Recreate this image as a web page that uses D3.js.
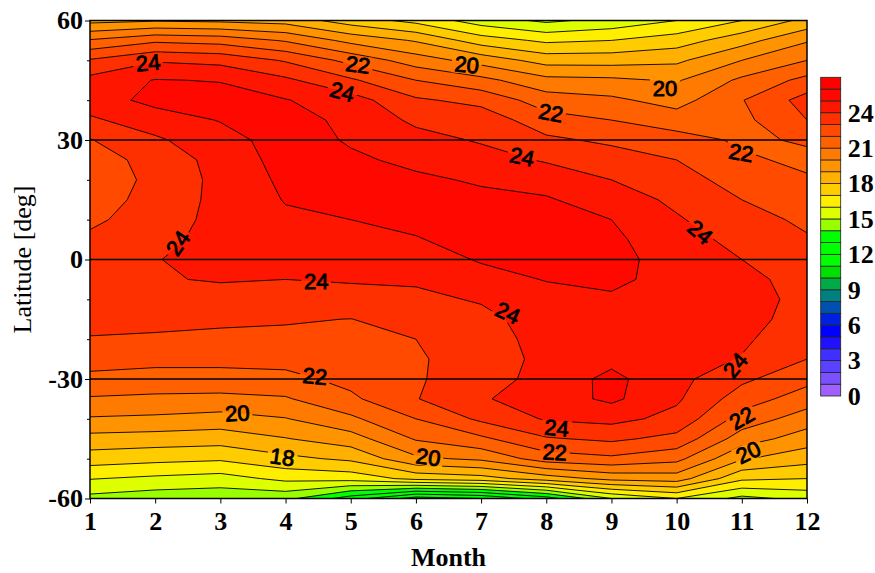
<!DOCTYPE html>
<html>
<head>
<meta charset="utf-8">
<script src="https://cdn.jsdelivr.net/npm/d3@7"></script>
<style>
  body { margin: 0; background: #fff; }
  .axis text { font-family: "Liberation Serif", "Times New Roman", serif; font-weight: bold; font-size: 26px; fill: #000; }
  .axis .domain { display: none; }
  .axis line { stroke: #000; }
</style>
</head>
<body>
<svg id="chart" width="875" height="573"></svg>
<script>
// grid: one column per month, latitudes from 60 down to -60
const months = [1, 2, 3, 4, 5, 6, 7, 8, 9, 10, 11, 12];
const lats = [60, 55, 50, 45, 40, 35, 30, 25, 20, 15, 10, 5, 0, -5, -10, -15, -20, -25, -30, -35, -40, -45, -50, -55, -60];

const jan = [18.7, 21.1, 23.1, 24.3, 24.5, 23.85, 22.95, 22.6, 22.5, 22.6, 22.8, 23.2, 23.5, 23.6, 23.5, 23.25, 22.95, 22.4, 21.75, 20.9, 19.9, 18.65, 17.5, 16.05, 14.7];
const feb = [18.9, 21.8, 23.9, 25.05, 25.3, 24.5, 23.85, 23.3, 23.2, 23.3, 23.5, 23.75, 23.97, 23.95, 23.7, 23.3, 22.85, 22.3, 21.6, 20.8, 19.8, 18.55, 17.3, 15.8, 14.4];
const mar = [18.8, 21.6, 23.7, 24.95, 25.4, 25.05, 24.6, 24.4, 24.3, 24.3, 24.3, 24.3, 24.25, 24.05, 23.75, 23.2, 22.75, 22.3, 21.6, 20.75, 19.6, 18.45, 17.15, 15.6, 14.3];
const apr = [18.6, 20.9, 22.9, 24.2, 25.05, 25.4, 25.45, 25.35, 25.2, 25.05, 24.85, 24.6, 24.35, 24.0, 23.7, 23.1, 22.75, 22.35, 21.7, 20.9, 19.95, 18.95, 17.75, 16.25, 14.3];
const may = [17.5, 19.7, 21.7, 23.15, 24.45, 24.75, 24.9, 25.15, 25.35, 25.3, 25.0, 24.7, 24.35, 24.05, 23.8, 22.98, 22.7, 22.5, 22.3, 21.8, 20.8, 19.55, 18.2, 16.4, 12.5];
const jun = [16.7, 18.9, 20.5, 22.0, 23.15, 23.8, 24.35, 24.8, 25.15, 25.3, 25.2, 24.95, 24.45, 24.15, 23.75, 23.45, 23.0, 22.9, 22.9, 22.95, 22.0, 21.1, 19.8, 17.3, 10.5];
const jul = [15.5, 17.5, 19.6, 21.3, 22.7, 23.6, 23.9, 24.4, 24.9, 25.2, 25.4, 25.3, 25.1, 24.6, 24.1, 23.7, 23.5, 23.4, 23.5, 23.9, 23.2, 21.8, 20.2, 17.6, 11.0];
const aug = [14.8, 16.8, 18.6, 20.3, 21.5, 22.4, 23.2, 23.9, 24.6, 25.1, 25.4, 25.5, 25.4, 25.05, 24.6, 24.5, 24.4, 24.3, 24.4, 24.5, 24.1, 22.9, 21.5, 18.5, 12.5];
const sep = [15.3, 17.0, 18.6, 20.2, 21.2, 22.0, 22.8, 23.5, 24.0, 24.5, 25.0, 25.2, 25.3, 25.15, 24.9, 24.7, 24.6, 24.75, 25.25, 25.2, 24.3, 23.2, 21.8, 19.3, 15.0];
const oct = [16.0, 17.5, 18.8, 19.9, 20.6, 21.5, 22.4, 23.0, 23.5, 23.8, 24.1, 24.4, 24.6, 24.75, 24.8, 24.7, 24.5, 24.4, 24.3, 24.15, 23.7, 22.7, 21.3, 19.5, 16.0];
const nov = [17.0, 18.6, 20.0, 21.2, 21.95, 21.75, 21.85, 22.15, 22.5, 23.0, 23.4, 23.7, 24.0, 24.3, 24.35, 24.3, 24.15, 23.95, 23.2, 22.5, 21.6, 20.5, 19.1, 17.2, 14.7];
const dec = [18.3, 19.9, 21.0, 22.3, 23.4, 23.0, 22.1, 21.8, 22.1, 22.5, 22.8, 23.1, 23.4, 23.6, 23.75, 23.65, 23.4, 23.0, 22.3, 21.5, 20.5, 19.5, 18.4, 17.0, 15.3];

// one colour per unit band [v, v+1)
const bandColors = [
  '#a060ff', '#7a50ff', '#5a40ff', '#4030ff', '#2010ff', '#0000ff', '#0020e0', '#0050b0', '#008080',
  '#00aa44', '#00e000', '#00ff00', '#00ff00', '#00ff00', '#99ff00', '#ddff00', '#ffee00', '#ffcc00',
  '#ffb000', '#ff9400', '#ff7a00', '#ff6000', '#ff4a00', '#ff3000', '#ff1600', '#ff0800', '#ff0000'
];
const barTicks = [0, 3, 6, 9, 12, 15, 18, 21, 24];
const yMajor = [60, 30, 0, -30, -60];
const yMinor = [50, 40, 20, 10, -10, -20, -40, -50];
const refLats = [30, 0, -30];

// inline contour labels: level, month, latitude, rotation
const labels = [
  { v: 24, m: 1.89, lat: 49.4, rot: -5 },
  { v: 22, m: 5.11, lat: 48.9, rot: 8 },
  { v: 20, m: 6.78, lat: 48.9, rot: 5 },
  { v: 24, m: 4.87, lat: 42.1, rot: 15 },
  { v: 22, m: 8.07, lat: 36.8, rot: 10 },
  { v: 20, m: 9.82, lat: 43.1, rot: 0 },
  { v: 24, m: 7.63, lat: 25.8, rot: 12 },
  { v: 22, m: 10.99, lat: 26.8, rot: 10 },
  { v: 24, m: 2.35, lat: 4.1, rot: -55 },
  { v: 24, m: 10.36, lat: 6.9, rot: 40 },
  { v: 24, m: 4.47, lat: -5.4, rot: 0 },
  { v: 24, m: 7.41, lat: -13.4, rot: 25 },
  { v: 24, m: 10.9, lat: -26.5, rot: -50 },
  { v: 22, m: 4.45, lat: -29.3, rot: 5 },
  { v: 20, m: 3.26, lat: -38.6, rot: -3 },
  { v: 22, m: 11.0, lat: -39.8, rot: -30 },
  { v: 18, m: 3.95, lat: -49.6, rot: 8 },
  { v: 20, m: 6.19, lat: -49.6, rot: 8 },
  { v: 24, m: 8.16, lat: -42.3, rot: 5 },
  { v: 22, m: 8.13, lat: -48.4, rot: 3 },
  { v: 20, m: 11.1, lat: -48.4, rot: -25 }
];

const width = 875;
const height = 573;
const plot = { left: 90, right: 807, top: 20.5, bottom: 498.5 };

const svg = d3.select('#chart');
const defs = svg.append('defs');

const x = d3.scaleLinear().domain([1, 12]).range([plot.left, plot.right]);
const y = d3.scaleLinear().domain([-60, 60]).range([plot.bottom, plot.top]);

defs.append('clipPath').attr('id', 'plot-clip')
  .append('rect')
  .attr('x', plot.left).attr('y', plot.top)
  .attr('width', plot.right - plot.left).attr('height', plot.bottom - plot.top);

// flatten the month columns into a row-major grid for d3.contours
const columns = [jan, feb, mar, apr, may, jun, jul, aug, sep, oct, nov, dec];
const nx = months.length;
const ny = lats.length;
const values = [];
for (let j = 0; j < ny; j++) {
  for (let i = 0; i < nx; i++) values.push(columns[i][j]);
}

const thresholds = d3.range(0, bandColors.length);
const contours = d3.contours().size([nx, ny]).thresholds(thresholds)(values);

const latStep = lats[1] - lats[0];
const gridToScreen = d3.geoTransform({
  point(px, py) {
    this.stream.point(x(months[0] + px - 0.5), y(lats[0] + (py - 0.5) * latStep));
  }
});
const path = d3.geoPath(gridToScreen);

// mask that cuts the contour lines under each label
const mask = defs.append('mask').attr('id', 'label-gaps')
  .attr('maskUnits', 'userSpaceOnUse')
  .attr('x', 0).attr('y', 0).attr('width', width).attr('height', height);
mask.append('rect').attr('width', width).attr('height', height).attr('fill', '#fff');
mask.selectAll('rect.gap')
  .data(labels)
  .join('rect')
  .attr('class', 'gap')
  .attr('x', -15).attr('y', -9).attr('width', 30).attr('height', 18)
  .attr('fill', '#000')
  .attr('transform', d => `translate(${x(d.m)},${y(d.lat)}) rotate(${d.rot})`);

const plotG = svg.append('g').attr('clip-path', 'url(#plot-clip)');

plotG.append('g')
  .selectAll('path')
  .data(contours)
  .join('path')
  .attr('d', path)
  .attr('fill', d => bandColors[d.value])
  .attr('fill-rule', 'evenodd');

plotG.append('g')
  .attr('mask', 'url(#label-gaps)')
  .selectAll('path')
  .data(contours.filter(d => d.value >= 10))
  .join('path')
  .attr('d', path)
  .attr('fill', 'none')
  .attr('stroke', '#000')
  .attr('stroke-width', 0.9);

plotG.append('g')
  .selectAll('line')
  .data(refLats)
  .join('line')
  .attr('x1', plot.left).attr('x2', plot.right)
  .attr('y1', d => y(d)).attr('y2', d => y(d))
  .attr('stroke', '#000')
  .attr('stroke-width', 1.5);

svg.append('g')
  .selectAll('text')
  .data(labels)
  .join('text')
  .attr('transform', d => `translate(${x(d.m)},${y(d.lat)}) rotate(${d.rot})`)
  .attr('text-anchor', 'middle')
  .attr('dy', '0.35em')
  .style('font-family', '"Liberation Sans", Arial, sans-serif')
  .style('font-size', '22px')
  .style('stroke', '#000')
  .style('stroke-width', 0.9)
  .text(d => d.v);

svg.append('rect')
  .attr('x', plot.left).attr('y', plot.top)
  .attr('width', plot.right - plot.left).attr('height', plot.bottom - plot.top)
  .attr('fill', 'none')
  .attr('stroke', '#000')
  .attr('stroke-width', 1.5);

// axes
svg.append('g')
  .attr('class', 'axis')
  .attr('transform', `translate(${plot.left},0)`)
  .call(d3.axisLeft(y).tickValues(yMajor).tickSize(5).tickPadding(2).tickFormat(d => String(d)));

svg.append('g')
  .attr('class', 'axis')
  .attr('transform', `translate(${plot.left},0)`)
  .call(d3.axisLeft(y).tickValues(yMinor).tickSize(3).tickFormat(''));

const xAxisG = svg.append('g')
  .attr('class', 'axis')
  .attr('transform', `translate(0,${plot.bottom})`)
  .call(d3.axisBottom(x).tickValues(months).tickSize(5).tickPadding(8));
xAxisG.selectAll('line').attr('stroke', '#777');

svg.append('text')
  .attr('x', (plot.left + plot.right) / 2)
  .attr('y', 566)
  .attr('text-anchor', 'middle')
  .style('font-family', '"Liberation Serif", "Times New Roman", serif')
  .style('font-weight', 'bold')
  .style('font-size', '26px')
  .text('Month');

svg.append('text')
  .attr('transform', `translate(31,${(plot.top + plot.bottom) / 2}) rotate(-90)`)
  .attr('text-anchor', 'middle')
  .style('font-family', '"Liberation Serif", "Times New Roman", serif')
  .style('font-size', '26px')
  .text('Latitude [deg]');

// colour bar
const bar = { left: 820.7, width: 20, top: 77.3, bottom: 396 };
const cb = d3.scaleLinear().domain([0, bandColors.length]).range([bar.bottom, bar.top]);

svg.append('g')
  .selectAll('rect')
  .data(bandColors)
  .join('rect')
  .attr('x', bar.left)
  .attr('y', (d, i) => cb(i + 1))
  .attr('width', bar.width)
  .attr('height', (d, i) => cb(i) - cb(i + 1))
  .attr('fill', d => d)
  .attr('stroke', '#222')
  .attr('stroke-width', 0.8);

svg.append('g')
  .attr('class', 'axis')
  .attr('transform', `translate(${bar.left + bar.width},0)`)
  .call(d3.axisRight(cb).tickValues(barTicks).tickSize(0).tickPadding(7));
</script>
</body>
</html>
